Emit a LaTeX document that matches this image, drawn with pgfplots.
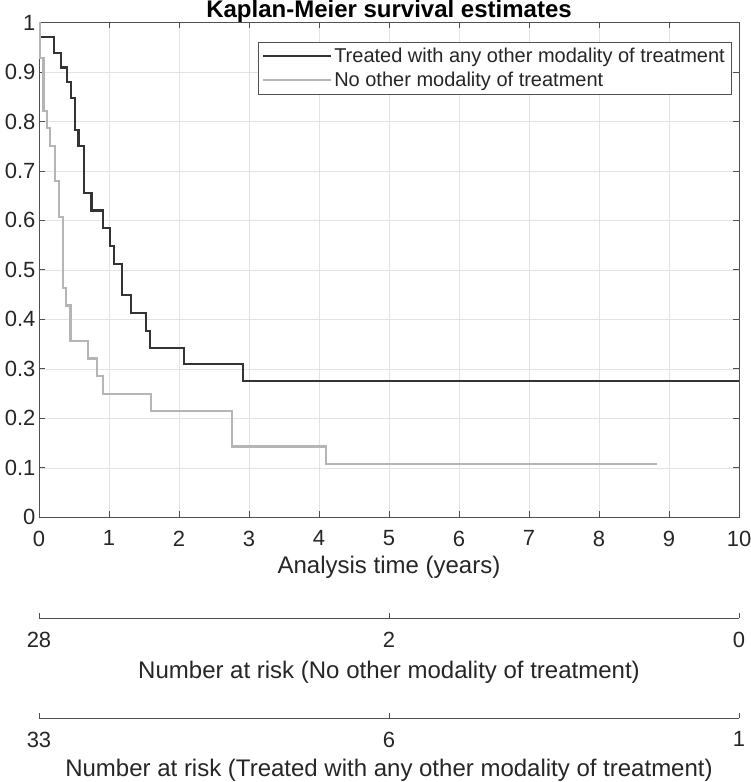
\documentclass[border=0pt]{standalone}
\usepackage{fontspec}
\setmainfont{Liberation Sans}
\usepackage{pgfplots}
\pgfplotsset{compat=1.18}
\definecolor{axc}{HTML}{505050}
\definecolor{gridc}{HTML}{E3E3E3}
\definecolor{tc}{HTML}{333333}
\definecolor{nc}{HTML}{B5B5B5}
\definecolor{txt}{HTML}{262626}
\newcommand{\fsT}{\fontsize{22}{26}\selectfont}
\newcommand{\fsL}{\fontsize{24}{28}\selectfont}
\newcommand{\fsG}{\fontsize{20}{24}\selectfont}
\begin{document}
\begin{tikzpicture}
\pgfplotsset{every axis/.append style={
  scale only axis, width=700pt,
  /pgf/number format/assume math mode=true,
  tick label style={font=\fsT, text=txt},
  xticklabel style={yshift=-10pt},
  label style={font=\fsL, text=txt},
  axis line style={axc, line width=0.8pt},
  major tick style={axc, line width=0.8pt},
}}
\begin{axis}[at={(0,0)}, anchor=south west, height=494.8pt,
  xmin=0, xmax=10, ymin=0, ymax=1,
  xtick={0,1,2,3,4,5,6,7,8,9,10},
  ytick={0,0.1,0.2,0.3,0.4,0.5,0.6,0.7,0.8,0.9,1},
  yticklabels={0,0.1,0.2,0.3,0.4,0.5,0.6,0.7,0.8,0.9,1},
  tick align=inside, major tick length=6pt,
  grid=major, grid style={gridc, line width=0.6pt},
  title={\textbf{Kaplan-Meier survival estimates}},
  title style={at={(0.5,1)}, anchor=base, yshift=-1pt, font=\fsL, text=black},
  xlabel={Analysis time (years)},
  xlabel style={at={(axis description cs:0.5,0)}, anchor=center, yshift=-50pt},
  legend style={at={(0.9886,0.9606)}, anchor=north east, draw=axc, fill=white,
    font=\fsG, text=txt, cells={anchor=west}, inner xsep=4pt, inner ysep=4pt, row sep=4pt},
  legend image code/.code={\draw[#1] (0pt,0pt) -- (68pt,0pt);},
]
\addplot[const plot, color=tc, line width=2.1pt] coordinates {
(0,1) (0.02,0.970) (0.22,0.939) (0.31,0.909) (0.40,0.879) (0.46,0.848)
(0.51,0.782) (0.565,0.75) (0.64,0.655) (0.75,0.62) (0.91,0.584)
(1.02,0.548) (1.07,0.512) (1.19,0.45) (1.31,0.413) (1.53,0.376)
(1.58,0.342) (2.07,0.309) (2.92,0.275) (10,0.275)};
\addlegendentry{Treated with any other modality of treatment}
\addplot[const plot, color=nc, line width=2.1pt] coordinates {
(0,1) (0.015,0.929) (0.065,0.821) (0.11,0.786) (0.16,0.75) (0.23,0.679)
(0.29,0.607) (0.34,0.464) (0.385,0.428) (0.45,0.357) (0.70,0.321)
(0.83,0.286) (0.92,0.25) (1.60,0.214) (2.76,0.143) (4.10,0.107) (8.83,0.107)};
\addlegendentry{No other modality of treatment}
\end{axis}
\begin{axis}[at={(0,-101pt)}, anchor=south west, height=20pt,
  xmin=0, xmax=10, ymin=0, ymax=1,
  axis x line=bottom, axis y line=none, x axis line style={-},
  xtick={0,5,10}, xticklabels={28,2,0},
  tick align=inside, major tick length=5pt,
  xlabel={Number at risk (No other modality of treatment)},
  xlabel style={at={(axis description cs:0.5,0)}, anchor=center, yshift=-54pt}]
\end{axis}
\begin{axis}[at={(0,-201pt)}, anchor=south west, height=20pt,
  xmin=0, xmax=10, ymin=0, ymax=1,
  axis x line=bottom, axis y line=none, x axis line style={-},
  xtick={0,5,10}, xticklabels={33,6,1},
  tick align=inside, major tick length=5pt,
  xlabel={Number at risk (Treated with any other modality of treatment)},
  xlabel style={at={(axis description cs:0.5,0)}, anchor=center, yshift=-52pt}]
\end{axis}
\pgfresetboundingbox
\useasboundingbox (-39pt,-264.7pt) rectangle (711pt,517.3pt);
\end{tikzpicture}
\end{document}
